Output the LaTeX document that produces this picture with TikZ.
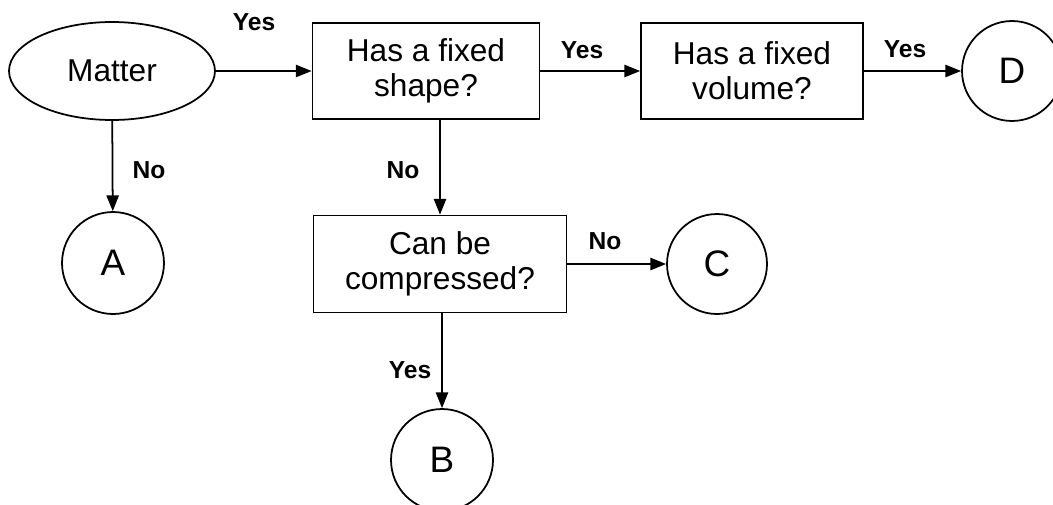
\documentclass[tikz,border=0pt]{standalone}
\usepackage{fontspec}
\setmainfont{Liberation Sans}
\usetikzlibrary{arrows.meta,positioning,shapes.geometric}

\begin{document}
\begin{tikzpicture}[
  x=0.02cm, y=-0.02cm,
  every node/.style={font=\fontsize{18}{20}\selectfont, align=center, inner sep=1pt},
  question/.style={rectangle, draw, line width=1pt, minimum height=1.92cm},
  outcome/.style={circle, draw, line width=1pt, minimum size=2.04cm, font=\fontsize{21}{24}\selectfont},
  answer/.style={font=\bfseries\fontsize{14}{16}\selectfont},
  flow/.style={draw, ->, >={Triangle[length=9pt,width=7pt]}, line width=1pt}
]
\useasboundingbox (0,0) rectangle (1053,504);

% questions
\node[ellipse, draw, line width=1pt, minimum width=4.12cm, minimum height=1.96cm] (matter) at (112,71) {Matter};
\node[question, minimum width=4.54cm] (shape) at (426,71) {Has a fixed\\shape?};
\node[question, minimum width=4.44cm] (volume) at (752,71) {Has a fixed\\volume?};
\node[question, minimum width=5.06cm, minimum height=1.94cm] (compress) at (440,264) {Can be\\compressed?};

% outcomes
\node[outcome] (A) at (113,263) {A};
\node[outcome] (B) at (442,460) {B};
\node[outcome, minimum size=2cm] (C) at (717,264) {C};
\node[outcome, minimum size=2cm] (D) at (1012,71) {D};

% connectors
\draw[flow] (matter) -- (shape);
\draw[flow] (matter) -- (A);
\draw[flow] (shape) -- (volume);
\draw[flow] (volume) -- (D);
\draw[flow] (shape.south -| compress.north) -- (compress.north);
\draw[flow] (compress) -- (C);
\draw[flow] (compress.south -| B.north) -- (B);

% answers
\node[answer] (yesshape) at (254,22) {Yes};
\node[answer] (noA) at (149,170) {No};
\node[answer] (yesvolume) at (582,50) {Yes};
\node[answer] (yesD) at (905,49) {Yes};
\node[answer] (nocompress) at (403,170) {No};
\node[answer] (noC) at (605,241) {No};
\node[answer] (yesB) at (410,370) {Yes};
\end{tikzpicture}
\end{document}
